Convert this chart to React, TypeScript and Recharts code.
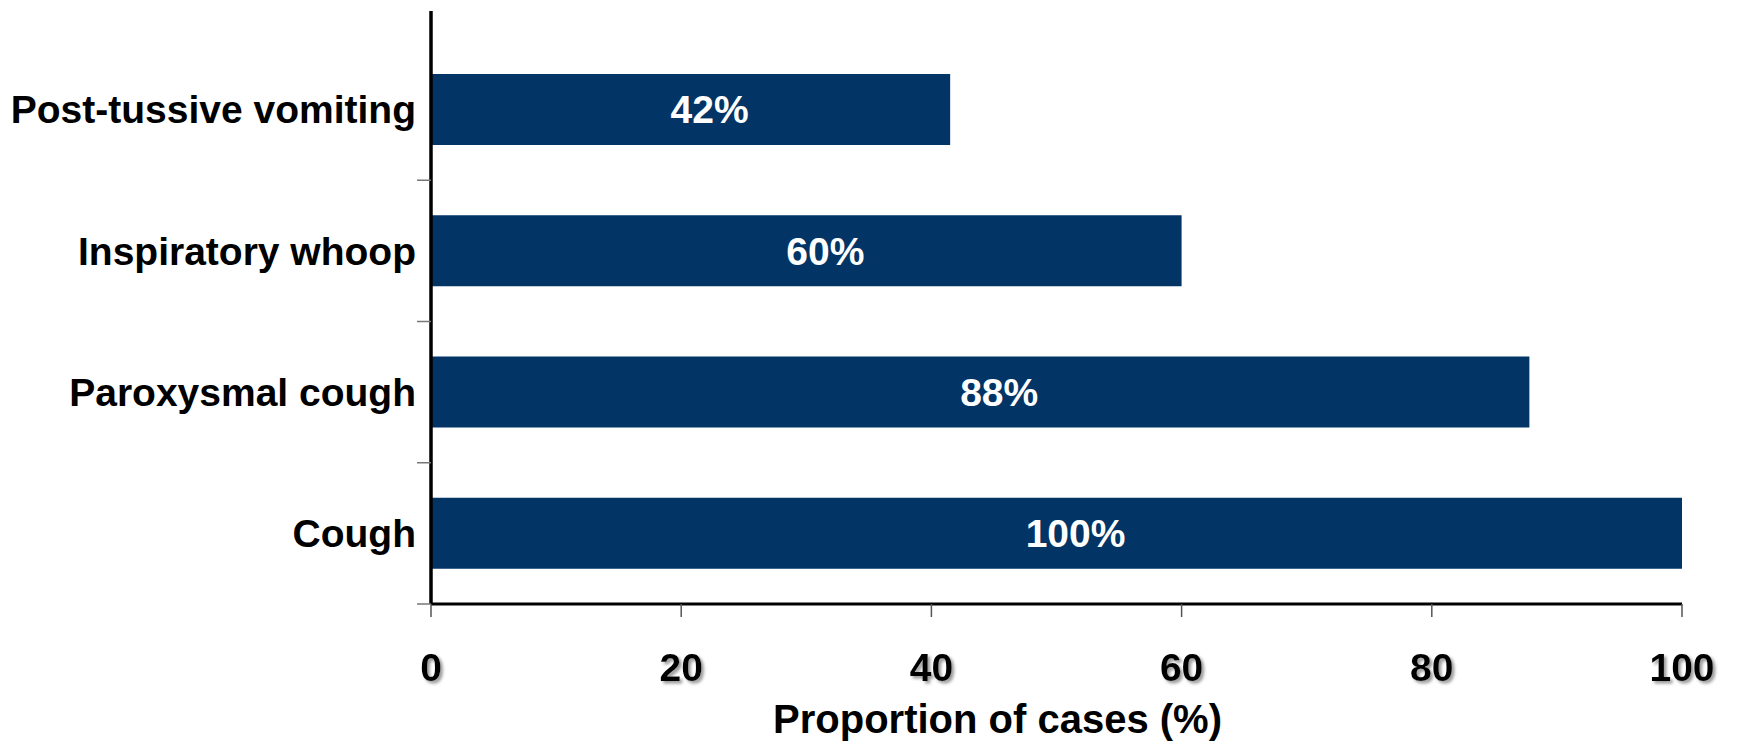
import React from 'react';
import { BarChart, Bar, XAxis, YAxis, LabelList } from 'recharts';

const categories = ['Post-tussive vomiting', 'Inspiratory whoop', 'Paroxysmal cough', 'Cough'];
const proportions = [41.5, 60, 87.8, 100];
const valueLabels = ['42%', '60%', '88%', '100%'];
const xTicks = [0, 20, 40, 60, 80, 100];

const data = categories.map((c, i) => ({ name: c, value: proportions[i], label: valueLabels[i] }));

const FONT = 'Liberation Sans, Arial, Helvetica, sans-serif';
const Y_TICK_MARGIN = 15;
const Y_EDGE_TICK = 14;

const XTick = (props: any) => {
  const { x, y, payload } = props;
  return (
    <text
      x={x}
      y={y}
      dy="0.71em"
      textAnchor="middle"
      fontFamily={FONT}
      fontWeight="bold"
      fontSize={39}
      fill="#000"
      filter="url(#tickShadow)"
    >
      {payload.value}
    </text>
  );
};

const YTick = (props: any) => {
  const { x, y, payload } = props;
  const half = payload && typeof payload.offset === 'number' ? payload.offset : 0;
  const axisX = x + Y_TICK_MARGIN;
  return (
    <g>
      {half > 0 && (
        <line
          x1={axisX - Y_EDGE_TICK}
          x2={axisX}
          y1={y + half}
          y2={y + half}
          stroke="#777"
          strokeWidth={1.5}
        />
      )}
      <text
        x={x}
        y={y}
        dy="0.355em"
        textAnchor="end"
        fontFamily={FONT}
        fontWeight="bold"
        fontSize={39}
        fill="#000"
      >
        {payload.value}
      </text>
    </g>
  );
};

export default function App() {
  return (
    <BarChart
      width={1735}
      height={735}
      data={data}
      layout="vertical"
      margin={{ top: 3, right: 61, bottom: 0, left: 0 }}
    >
      <defs>
        <filter id="tickShadow" x="-20%" y="-20%" width="150%" height="150%">
          <feDropShadow dx="2.5" dy="2.5" stdDeviation="1.5" floodColor="#777" floodOpacity="0.75" />
        </filter>
      </defs>
      <XAxis
        type="number"
        domain={[0, 100]}
        ticks={xTicks}
        height={139}
        axisLine={{ stroke: '#000', strokeWidth: 3 }}
        tickLine={{ stroke: '#555', strokeWidth: 1.5 }}
        tickSize={13}
        tickMargin={36}
        tick={<XTick />}
        label={{
          value: 'Proportion of cases (%)',
          position: 'insideBottom',
          offset: 10,
          dx: -59,
          style: { fontFamily: FONT, fontWeight: 'bold', fontSize: 40, fill: '#000' },
        }}
      />
      <YAxis
        type="category"
        dataKey="name"
        width={423}
        padding={{ top: 28 }}
        axisLine={{ stroke: '#000', strokeWidth: 3.5 }}
        tickLine={false}
        tickSize={0}
        tickMargin={Y_TICK_MARGIN}
        tick={<YTick />}
      />
      <Bar dataKey="value" fill="#023466" barSize={71} isAnimationActive={false}>
        <LabelList
          dataKey="label"
          position="center"
          dx={19}
          style={{ fontFamily: FONT, fontWeight: 'bold', fontSize: 39, fill: '#fff' }}
        />
      </Bar>
    </BarChart>
  );
}
